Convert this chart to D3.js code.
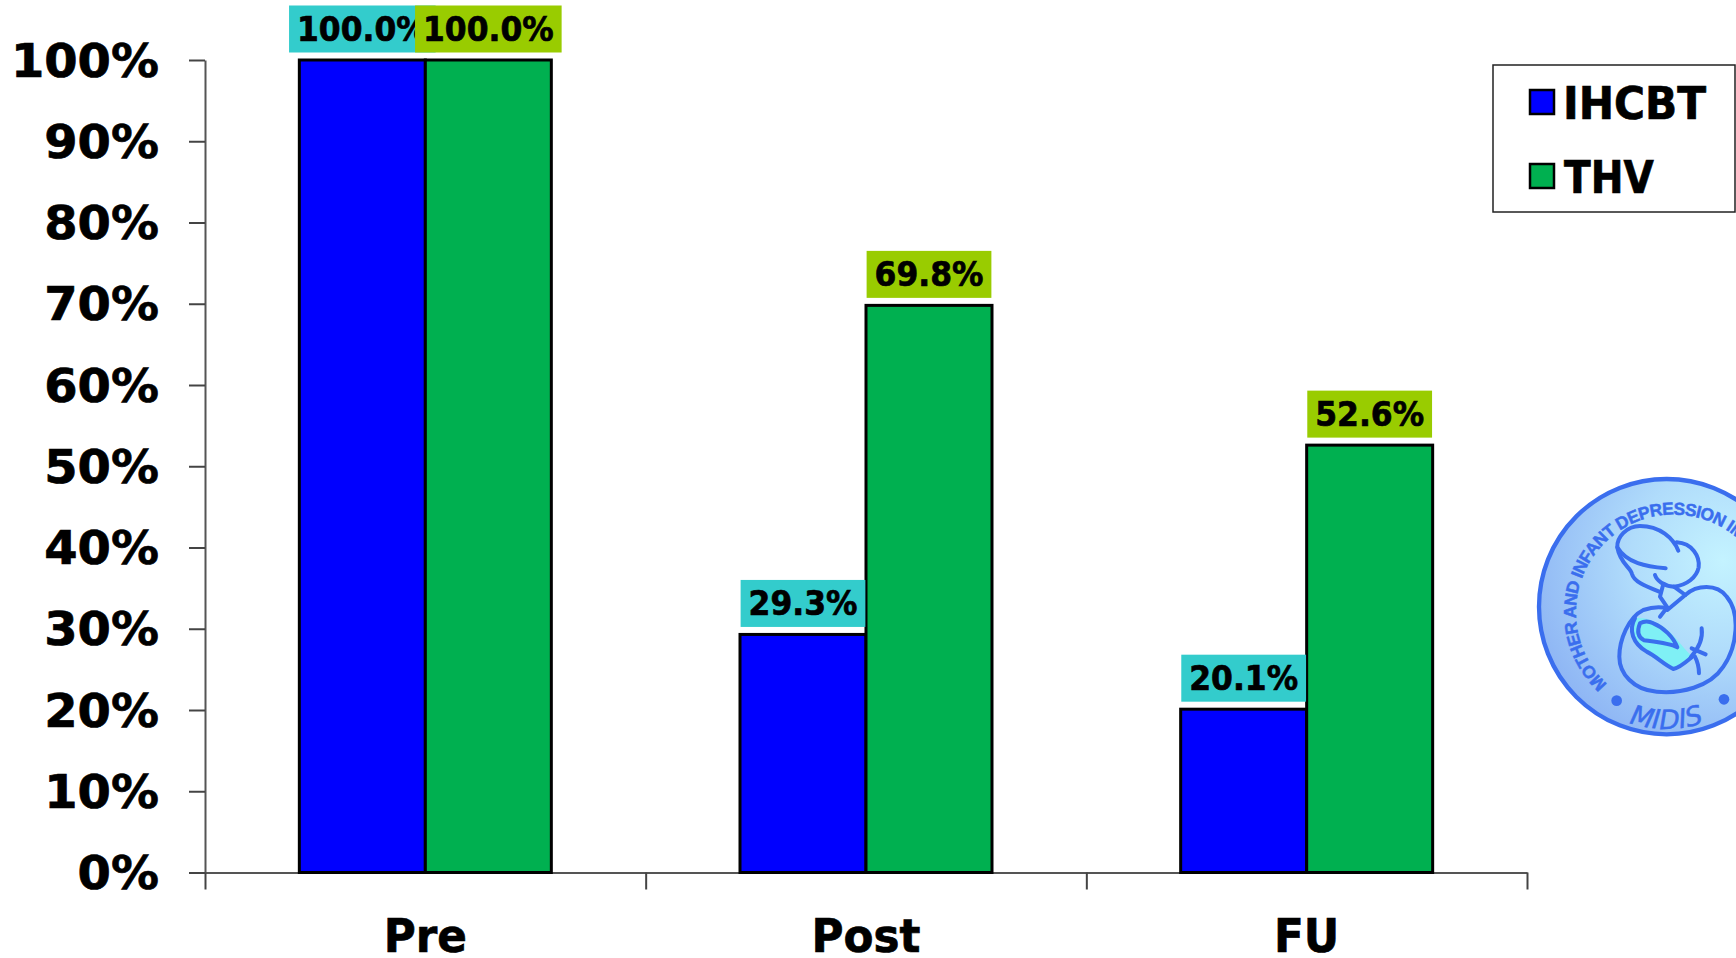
<!DOCTYPE html>
<html>
<head>
<meta charset="utf-8">
<script src="https://cdn.jsdelivr.net/npm/d3@7/dist/d3.min.js"></script>
<style>
html,body{margin:0;padding:0;background:#fff;overflow:hidden}
svg{display:block}
text{font-family:"DejaVu Sans",sans-serif;font-weight:bold;fill:#000;stroke:#000;stroke-width:0.7px}
</style>
</head>
<body>
<div id="chart"></div>
<script>
const categories = ["Pre", "Post", "FU"];
const seriesNames = ["IHCBT", "THV"];
const ihcbtValues = [100.0, 29.3, 20.1];
const thvValues = [100.0, 69.8, 52.6];
const yTickValues = [0, 10, 20, 30, 40, 50, 60, 70, 80, 90, 100];
const barFills = ["#0000ff", "#00b050"];
const labelFills = ["#33cccc", "#99cc00"];

const W = 1736, H = 958;
const plotLeft = 205, plotRight = 1527, plotTop = 60, plotBottom = 872.5;

const svg = d3.select("#chart").append("svg").attr("width", W).attr("height", H);

const x = d3.scaleBand().domain(categories).range([plotLeft, plotRight]);
const barSpan = 252;
const inner = d3.scaleBand().domain(seriesNames).range([0, barSpan]);
const groupOffset = (x.bandwidth() - barSpan) / 2;
const y = d3.scaleLinear().domain([0, 100]).range([plotBottom, plotTop]);

// Condense DejaVu Bold horizontally so its set width follows the chart's tighter face
function squeeze(sel, ratio) {
  sel.each(function (d, i) {
    const len = this.getComputedTextLength();
    const r = typeof ratio === "function" ? ratio(d, i) : ratio;
    d3.select(this).attr("lengthAdjust", "spacingAndGlyphs").attr("textLength", len * r);
  });
}

// Value axis
const yAxis = svg.append("g").attr("transform", `translate(${plotLeft},0)`)
  .call(d3.axisLeft(y).tickValues(yTickValues).tickSize(16).tickSizeOuter(0).tickFormat(d => d + "%").tickPadding(30));
yAxis.select(".domain").attr("stroke", "#555").attr("stroke-width", 2);
yAxis.selectAll(".tick line").attr("stroke", "#444").attr("stroke-width", 2);
yAxis.selectAll(".tick text")
  .attr("font-size", 47).attr("font-family", null).attr("dy", 0)
  .attr("y", 16).attr("x", -46).attr("text-anchor", "end");
squeeze(yAxis.selectAll(".tick text"), 1.02);

// Category boundaries as tick marks below the baseline
const boundaries = d3.range(categories.length + 1).map(i => plotLeft + i * x.step());
const xEdges = d3.scaleLinear().domain([plotLeft, plotRight]).range([plotLeft, plotRight]);
const xTicks = svg.append("g").attr("transform", `translate(0,${plotBottom})`)
  .call(d3.axisBottom(xEdges).tickValues(boundaries).tickSize(17).tickSizeOuter(0).tickFormat(""));
xTicks.select(".domain").attr("stroke", "#555").attr("stroke-width", 2);
xTicks.selectAll(".tick line").attr("stroke", "#444").attr("stroke-width", 2);

// Category labels
const xLabels = svg.append("g").attr("transform", `translate(0,${plotBottom})`)
  .call(d3.axisBottom(x).tickSize(0));
xLabels.select(".domain").remove();
xLabels.selectAll(".tick text")
  .attr("font-size", 47).attr("font-family", null).attr("dy", 0).attr("y", 79);
squeeze(xLabels.selectAll(".tick text"), 0.93);

// Bars
const seriesValues = [ihcbtValues, thvValues];
seriesNames.forEach((name, s) => {
  svg.append("g").selectAll("rect").data(categories).join("rect")
    .attr("x", c => x(c) + groupOffset + inner(name))
    .attr("y", (c, i) => y(seriesValues[s][i]))
    .attr("width", inner.bandwidth())
    .attr("height", (c, i) => y(0) - y(seriesValues[s][i]))
    .attr("fill", barFills[s])
    .attr("stroke", "#000")
    .attr("stroke-width", 3);
});

// Value labels on coloured plates; each series paints over the previous one
seriesNames.forEach((name, s) => {
  const g = svg.append("g").selectAll("g").data(categories).join("g")
    .attr("transform", (c, i) => {
      const cx = x(c) + groupOffset + inner(name) + inner.bandwidth() / 2;
      return `translate(${cx},${y(seriesValues[s][i]) - 7.5})`;
    });
  const plate = g.append("rect").attr("fill", labelFills[s]).attr("y", -47).attr("height", 47);
  const label = g.append("text")
    .attr("text-anchor", "middle").attr("y", -11.5).attr("font-size", 33)
    .text((c, i) => seriesValues[s][i].toFixed(1) + "%");
  const widths = label.nodes().map(n => n.getComputedTextLength() * 0.95 + 16);
  squeeze(label, 0.95);
  plate.attr("x", (c, i) => -widths[i] / 2).attr("width", (c, i) => widths[i]);
});

// Legend
const legend = svg.append("g");
legend.append("rect").attr("x", 1493).attr("y", 65).attr("width", 242).attr("height", 147)
  .attr("fill", "#fff").attr("stroke", "#222").attr("stroke-width", 1.5);
const legendRows = legend.selectAll("g").data(seriesNames).join("g")
  .attr("transform", (d, i) => `translate(0,${[119, 193][i]})`);
legendRows.append("rect").attr("x", 1530).attr("y", -29).attr("width", 24).attr("height", 24)
  .attr("fill", (d, i) => barFills[i]).attr("stroke", "#000").attr("stroke-width", 2.5);
const legendText = legendRows.append("text")
  .attr("x", (d, i) => [1563, 1564][i]).attr("font-size", 44).text(d => d);
squeeze(legendText, (d, i) => [0.96, 0.89][i]);

// Round study emblem at the right edge; drawn in a 3x local space
const defs = svg.append("defs");
const grad = defs.append("radialGradient").attr("id", "sealFill")
  .attr("cx", 0.72).attr("cy", 0.32).attr("r", 0.8);
grad.append("stop").attr("offset", 0).attr("stop-color", "#c4f3ff");
grad.append("stop").attr("offset", 0.45).attr("stop-color", "#b0dcfb");
grad.append("stop").attr("offset", 1).attr("stop-color", "#8db4f4");
defs.append("path").attr("id", "sealTop").attr("d", "M 322 672 A 293 293 0 1 1 795 560");
defs.append("path").attr("id", "sealBottom").attr("d", "M 158 500 A 344 344 0 0 0 842 500");

const seal = svg.append("g").attr("transform", "translate(1500,460) scale(0.3333)");
const ink = "#3a6eee";
seal.append("circle").attr("cx", 500).attr("cy", 440).attr("r", 383)
  .attr("fill", "url(#sealFill)").attr("stroke", ink).attr("stroke-width", 13);
seal.append("text").attr("font-size", 52).attr("letter-spacing", -2)
  .style("font-family", '"Liberation Sans",sans-serif').style("fill", ink).style("stroke", ink).style("stroke-width", "1.5px")
  .append("textPath").attr("href", "#sealTop").text("MOTHER AND INFANT DEPRESSION IMPACT");
seal.append("text").attr("font-size", 80).attr("font-style", "italic")
  .style("fill", ink).style("stroke", ink).style("stroke-width", "1.5px")
  .style("font-family", '"DejaVu Sans",sans-serif').style("font-weight", "normal")
  .attr("text-anchor", "middle")
  .append("textPath").attr("href", "#sealBottom").attr("startOffset", "50%").text("MIDIS");
seal.selectAll("circle.dot").data([[350, 722], [672, 718]]).join("circle").attr("class", "dot")
  .attr("cx", d => d[0]).attr("cy", d => d[1]).attr("r", 16).attr("fill", ink);

// Mother and infant line art
seal.append("path")
  .attr("d", "M405 475 C385 510 398 550 440 575 C470 590 490 612 520 627 C542 622 560 604 577 590 C545 560 520 520 490 500 C460 480 430 470 405 475 Z")
  .attr("fill", "#7ff0f5");
const strokes = [
  "M535 272 C520 235 480 198 420 198 C380 198 350 232 352 262 C380 310 440 320 497 325",
  "M352 262 C360 310 392 322 396 342 C402 366 440 380 480 396",
  "M530 247 C578 250 600 290 596 322 C590 352 560 376 522 380 C492 378 470 362 465 345",
  "M490 372 L480 410 L502 442 L480 470",
  "M522 380 L556 405 L502 450",
  "M556 405 C590 375 650 370 680 410 C722 460 712 560 670 620 C630 682 540 702 470 695 C400 690 358 640 358 590 C358 540 385 472 430 450 C460 440 480 440 502 445",
  "M405 475 C385 510 398 550 440 575 C470 590 490 612 520 627 C542 622 560 604 577 590",
  "M420 490 C412 510 410 530 432 541 C470 546 510 550 532 562 C520 530 490 502 460 490 C445 482 430 484 420 490 Z",
  "M605 505 C610 540 592 570 572 592",
  "M575 565 L617 583",
  "M585 590 C595 610 597 625 597 640"
];
seal.append("g").selectAll("path").data(strokes).join("path")
  .attr("d", d => d).attr("fill", "none").attr("stroke", ink)
  .attr("stroke-width", 12).attr("stroke-linecap", "round").attr("stroke-linejoin", "round");
</script>
</body>
</html>
